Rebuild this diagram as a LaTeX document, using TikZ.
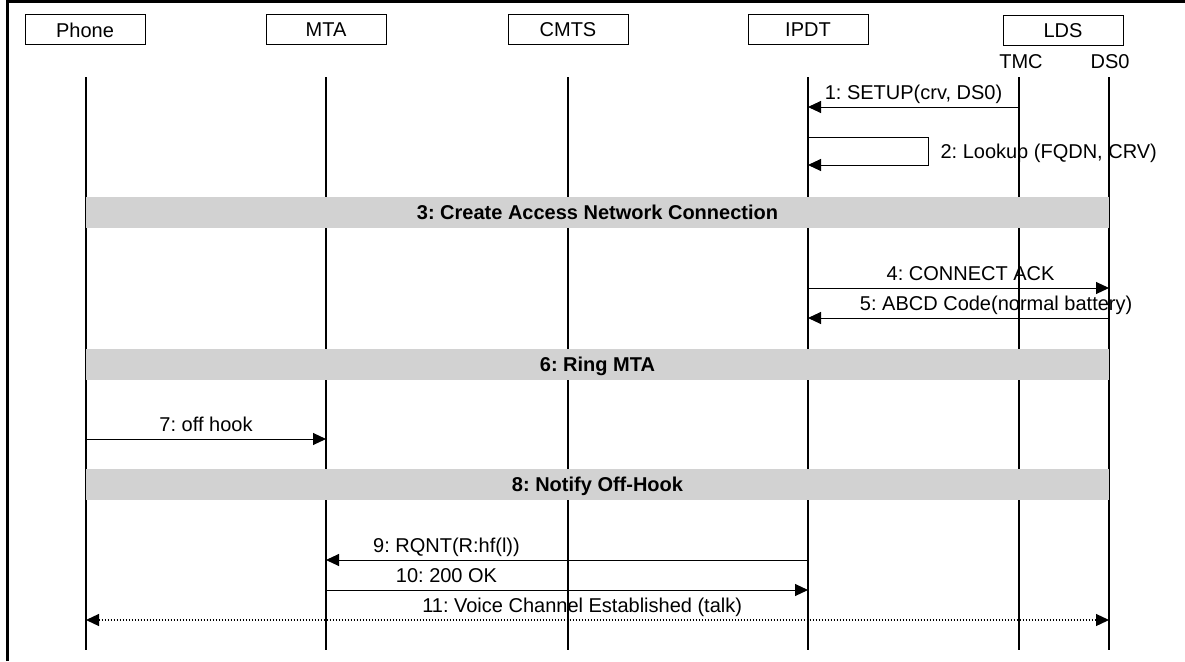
\documentclass[tikz,border=0pt]{standalone}
\usepackage{fontspec}
\setmainfont{Liberation Sans}
\usetikzlibrary{arrows.meta}
\definecolor{barfill}{RGB}{210,210,210}
\newcommand{\sqfont}{\fontsize{20}{24}\selectfont\frenchspacing}

\tikzset{
  entity/.style={draw, line width=1pt, minimum width=120pt, minimum height=30pt, inner sep=0pt},
  lifeline/.style={line width=1.3pt},
  msg/.style={line width=1pt, -{Triangle[length=13pt,width=12pt]}},
  talk/.style={line width=1.2pt, dash pattern=on 1.5pt off 1.5pt, {Triangle[length=13pt,width=12pt]}-{Triangle[length=13pt,width=12pt]}},
  phase/.style={fill=barfill, minimum width=1023pt, minimum height=31pt, inner sep=0pt, text height=14pt, text depth=0pt, font=\sqfont\bfseries},
  lbl/.style={anchor=base, yshift=8pt}
}

\begin{document}
\begin{tikzpicture}[x=1pt, y=-1pt, font=\sqfont]
    \useasboundingbox (0,0) rectangle (1185,661);
    % Frame
    \draw[line width=3pt] (7.5,661) -- (7.5,2) -- (1185,2);

    % Entities
    \node[entity] (Ph) at (85,30) {Phone};
    \node[entity] (M) at (326,30) {MTA};
    \node[entity] (C) at (568,30) {CMTS};
    \node[entity] (I) at (808,30) {IPDT};
    \node[entity] (L) at (1063,31) {LDS};
    \node[anchor=base] (T) at (1021,69) {TMC};
    \node[anchor=base] (D) at (1110,69) {DS0};

    % Lifelines
    \foreach \n/\x in {Ph/86, M/326, C/568, I/808, T/1019, D/1109} {
      \coordinate (\n L) at (\x,77);
      \draw[lifeline] (\n L) -- (\x,650);
    }

    % Messages
    \draw[msg] (TL |- 0,107) -- (IL |- 0,107) node[lbl, midway] {1: SETUP(crv, DS0)};
    \coordinate (lk) at (928,137);
    \draw[msg] (IL |- lk) -- (lk) -- (lk |- 0,165) -- (IL |- 0,165);
    \node[anchor=base west] (lkT) at (937,158) {2: Lookup (FQDN, CRV)};

    \node[phase] (P3) at (597.5,212.5) {3: Create Access Network Connection};

    \draw[msg] (IL |- 0,288) -- (DL |- 0,288) node[lbl, pos=0.54] {4: CONNECT ACK};
    \draw[msg] (DL |- 0,318) -- (IL |- 0,318) node[lbl, pos=0.375] {5: ABCD Code(normal battery)};

    \node[phase] (P6) at (597.5,364.5) {6: Ring MTA};

    \draw[msg] (PhL |- 0,439) -- (ML |- 0,439) node[lbl, midway] {7: off hook};

    \node[phase] (P8) at (597.5,484.5) {8: Notify Off-Hook};

    \draw[msg] (IL |- 0,560) -- (ML |- 0,560) node[lbl, pos=0.75] {9: RQNT(R:hf(l))};
    \draw[msg] (ML |- 0,590) -- (IL |- 0,590) node[lbl, pos=0.25] {10: 200 OK};
    \draw[talk] (PhL |- 0,620) -- (DL |- 0,620) node[lbl, pos=0.485, solid] {11: Voice Channel Established (talk)};
\end{tikzpicture}
\end{document}
